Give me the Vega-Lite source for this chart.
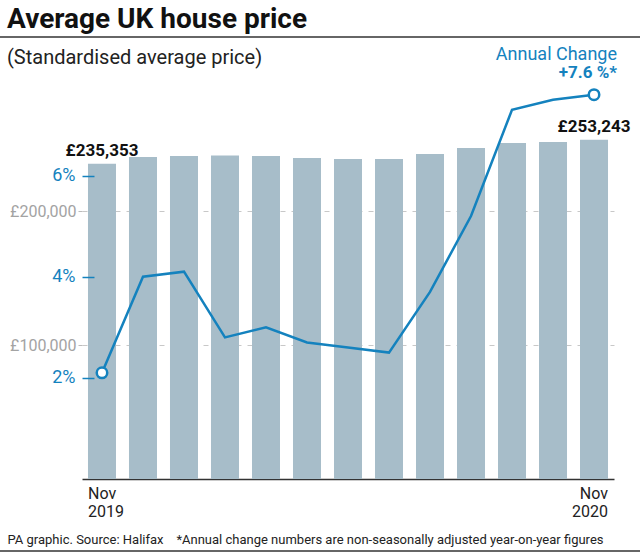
{
  "$schema": "https://vega.github.io/schema/vega-lite/v6.json",
  "width": 532,
  "height": 402,
  "autosize": {"type": "none"},
  "padding": {"left": 82, "top": 77, "right": 26, "bottom": 76},
  "background": "white",
  "config": {"font": "Roboto", "view": {"stroke": null}},
  "title": {
    "text": "Average UK house price",
    "subtitle": "(Standardised average price)",
    "anchor": "start",
    "frame": "group",
    "dx": -75,
    "offset": -32,
    "fontSize": 28,
    "fontWeight": "bold",
    "color": "#111111",
    "subtitleFontSize": 20,
    "subtitleColor": "#222222",
    "subtitlePadding": 14
  },
  "data": {
    "values": [
      {"month": "Nov 2019", "price": 235353, "pct": 2.1, "label": "£235,353"},
      {"month": "Dec 2019", "price": 240300, "pct": 4.0},
      {"month": "Jan 2020", "price": 241000, "pct": 4.1},
      {"month": "Feb 2020", "price": 241400, "pct": 2.8},
      {"month": "Mar 2020", "price": 241000, "pct": 3.0},
      {"month": "Apr 2020", "price": 239600, "pct": 2.7},
      {"month": "May 2020", "price": 238800, "pct": 2.6},
      {"month": "Jun 2020", "price": 238800, "pct": 2.5},
      {"month": "Jul 2020", "price": 242500, "pct": 3.7},
      {"month": "Aug 2020", "price": 247000, "pct": 5.2},
      {"month": "Sep 2020", "price": 250700, "pct": 7.3},
      {"month": "Oct 2020", "price": 251500, "pct": 7.5},
      {"month": "Nov 2020", "price": 253243, "pct": 7.6, "label": "£253,243"}
    ]
  },
  "encoding": {
    "x": {
      "field": "month",
      "type": "ordinal",
      "sort": null,
      "scale": {"paddingInner": 0.317, "paddingOuter": 0.146},
      "axis": {
        "title": "PA graphic. Source: Halifax\u00a0\u00a0\u00a0\u00a0*Annual change numbers are non-seasonally adjusted year-on-year figures",
        "titleAnchor": "start",
        "titleAlign": "left",
        "titleX": -75,
        "titleY": 64,
        "titleBaseline": "alphabetic",
        "titleFontSize": 13,
        "titleFontWeight": "normal",
        "titleColor": "#222222",
        "labelExpr": "datum.value == 'Nov 2019' ? ['Nov', '2019'] : datum.value == 'Nov 2020' ? ['Nov', '2020'] : ''",
        "labelAlign": {"condition": {"test": "datum.value == 'Nov 2019'", "value": "left"}, "value": "right"},
        "labelOffset": {"condition": {"test": "datum.value == 'Nov 2019'", "value": -14}, "value": 14},
        "labelAngle": 0,
        "labelFontSize": 16,
        "labelLineHeight": 18,
        "labelColor": "#222222",
        "labelPadding": 6,
        "labelOverlap": false,
        "ticks": false,
        "domainColor": "#333333",
        "domainWidth": 1.5
      }
    }
  },
  "layer": [
    {
      "layer": [
        {
          "mark": {"type": "bar", "color": "#a7bdc9"},
          "encoding": {
            "y": {
              "field": "price",
              "type": "quantitative",
              "scale": {"domain": [0, 300000], "nice": false},
              "axis": {
                "title": null,
                "values": [100000, 200000],
                "labelExpr": "'£' + format(datum.value, ',')",
                "labelColor": "#a3a3a3",
                "labelFontSize": 16,
                "labelPadding": 2,
                "tickColor": "#bbbbbb",
                "tickSize": 4,
                "domain": false,
                "grid": true,
                "gridDash": [5, 6],
                "gridColor": "#c8c8c8"
              }
            }
          }
        },
        {
          "transform": [{"filter": "isValid(datum.label)"}],
          "mark": {"type": "rule", "color": "#333333", "strokeWidth": 1.2},
          "encoding": {
            "y": {"field": "price", "type": "quantitative"},
            "y2": {"field": "price"},
            "y2Offset": {"value": -6}
          }
        },
        {
          "transform": [{"filter": "isValid(datum.label)"}],
          "mark": {"type": "text", "fontSize": 17, "fontWeight": "bold", "color": "#111111", "align": "center", "baseline": "alphabetic", "dy": -8},
          "encoding": {
            "y": {"field": "price", "type": "quantitative"},
            "text": {"field": "label"}
          }
        }
      ]
    },
    {
      "layer": [
        {
          "mark": {"type": "line", "color": "#1482be", "strokeWidth": 2.5},
          "encoding": {
            "y": {
              "field": "pct",
              "type": "quantitative",
              "scale": {"domain": [0, 7.95], "nice": false},
              "axis": {
                "orient": "left",
                "offset": -12,
                "title": null,
                "values": [2, 4, 6],
                "labelExpr": "datum.value + '%'",
                "labelColor": "#1482be",
                "labelFontSize": 18,
                "labelPadding": 7,
                "tickColor": "#1482be",
                "tickSize": 12,
                "tickWidth": 1.5,
                "domain": false,
                "grid": false,
                "zindex": 1
              }
            }
          }
        },
        {
          "transform": [{"filter": "datum.month == 'Nov 2019' || datum.month == 'Nov 2020'"}],
          "mark": {"type": "point", "shape": "circle", "filled": true, "fill": "white", "stroke": "#1482be", "strokeWidth": 2.5, "size": 110, "opacity": 1},
          "encoding": {
            "y": {"field": "pct", "type": "quantitative"}
          }
        },
        {
          "transform": [{"filter": "datum.month == 'Nov 2020'"}],
          "mark": {"type": "text", "fontSize": 18, "color": "#1482be", "align": "right", "baseline": "alphabetic", "dx": 23, "dy": -35},
          "encoding": {
            "y": {"field": "pct", "type": "quantitative"},
            "text": {"value": "Annual Change"}
          }
        },
        {
          "transform": [{"filter": "datum.month == 'Nov 2020'"}],
          "mark": {"type": "text", "fontSize": 17, "fontWeight": "bold", "color": "#1482be", "align": "right", "baseline": "alphabetic", "dx": 23, "dy": -17},
          "encoding": {
            "y": {"field": "pct", "type": "quantitative"},
            "text": {"value": "+7.6 %*"}
          }
        }
      ]
    },
    {
      "data": {"values": [{"line": "header"}]},
      "mark": {"type": "rule", "color": "#333333", "strokeWidth": 1.5},
      "encoding": {
        "x": {"value": -82},
        "x2": {"value": 558},
        "y": {"value": -40}
      }
    },
    {
      "data": {"values": [{"line": "footer"}]},
      "mark": {"type": "rule", "color": "#333333", "strokeWidth": 1.5},
      "encoding": {
        "x": {"value": -82},
        "x2": {"value": 558},
        "y": {"value": 474}
      }
    }
  ],
  "resolve": {"scale": {"y": "independent"}, "axis": {"y": "independent"}}
}
